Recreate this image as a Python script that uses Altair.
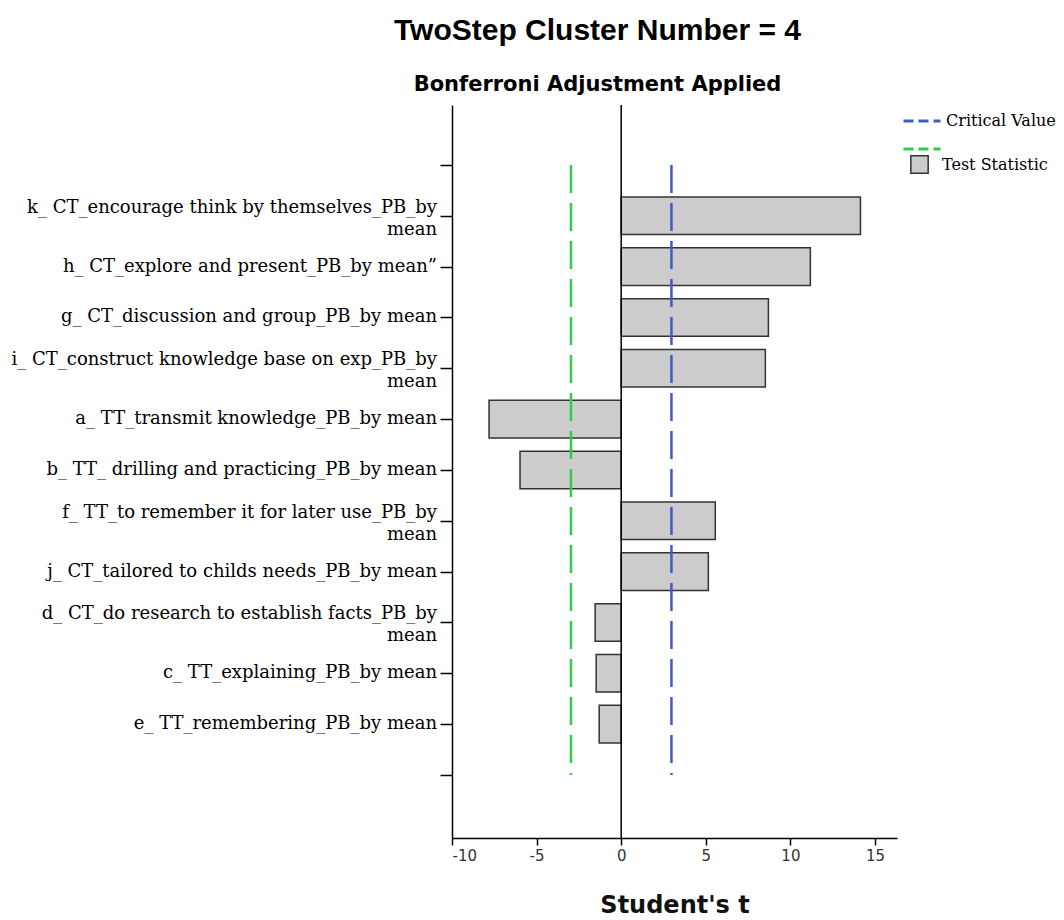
import altair as alt
import pandas as pd

# Predictors, top to bottom, and their Student's t statistics
variables = [
    "k_ CT_encourage think by themselves_PB_by\nmean",
    "h_ CT_explore and present_PB_by mean\u201d",
    "g_ CT_discussion and group_PB_by mean",
    "i_ CT_construct knowledge base on exp_PB_by\nmean",
    "a_ TT_transmit knowledge_PB_by mean",
    "b_ TT_ drilling and practicing_PB_by mean",
    "f_ TT_to remember it for later use_PB_by\nmean",
    "j_ CT_tailored to childs needs_PB_by mean",
    "d_ CT_do research to establish facts_PB_by\nmean",
    "c_ TT_explaining_PB_by mean",
    "e_ TT_remembering_PB_by mean",
]
t_values = [14.14, 11.18, 8.70, 8.52, -7.81, -5.98, 5.56, 5.15, -1.54, -1.48, -1.30]
critical_value = 2.97
x_ticks = [-10, -5, 0, 5, 10, 15]

SERIF = "DejaVu Serif"
SANS = "Liberation Sans"
WIDE_SANS = "DejaVu Sans"

bars = pd.DataFrame({
    "variable": variables,
    "t": t_values,
    "pos": list(range(1, len(variables) + 1)),
    "kind": "Test Statistic",
})
bars["lo"] = bars["pos"] - 0.37
bars["hi"] = bars["pos"] + 0.37

crit = pd.DataFrame({
    "x": [critical_value, -critical_value],
    "series": ["Critical Value", " "],
    "top": [0, 0],
    "bottom": [len(variables) + 1] * 2,
})

x_scale = alt.Scale(domain=[-10, 16.3], nice=False, zero=False)
y_scale = alt.Scale(domain=[-1.18, 13.24], reverse=True, nice=False, zero=False)

bar_layer = alt.Chart(bars).mark_rect(stroke="#333333", strokeWidth=1.5).encode(
    x=alt.X(
        "t:Q",
        scale=x_scale,
        title="Student's t",
        axis=alt.Axis(
            values=x_ticks, tickSize=7, tickColor="black", domainColor="black",
            tickWidth=1.5, domainWidth=1.5, labelFont=WIDE_SANS, labelFontSize=15,
            labelColor="#333333", labelPadding=3,
            labelExpr="replace(datum.label, '\u2212', '-')",
            titleFont=WIDE_SANS, titleFontSize=24, titleFontWeight="bold",
            titleColor="#111111", titlePadding=30, grid=False,
        ),
    ),
    x2=alt.datum(0),
    y=alt.Y(
        "lo:Q",
        scale=y_scale,
        title=None,
        axis=alt.Axis(
            values=list(range(0, len(variables) + 2)), labels=False, tickSize=12,
            tickColor="black", domainColor="black", tickWidth=1.5,
            domainWidth=1.5, grid=False,
        ),
    ),
    y2="hi:Q",
    fill=alt.Fill(
        "kind:N",
        scale=alt.Scale(domain=["Test Statistic"], range=["#cccccc"]),
        legend=alt.Legend(
            orient="none", legendX=458, legendY=50, title=None,
            symbolType="square", symbolSize=300, symbolStrokeColor="#333333",
            symbolStrokeWidth=1.5, labelFont=SERIF, labelFontSize=16,
            labelColor="black", labelOffset=13,
        ),
    ),
)

zero_line = alt.Chart(pd.DataFrame({"zero": [0]})).mark_rule(
    color="black", strokeWidth=1.5
).encode(x=alt.X("zero:Q", scale=x_scale))

crit_layer = alt.Chart(crit).mark_rule(strokeDash=[28, 10], strokeWidth=2.5).encode(
    x=alt.X("x:Q", scale=x_scale),
    y=alt.Y("top:Q", scale=y_scale),
    y2="bottom:Q",
    stroke=alt.Stroke(
        "series:N",
        scale=alt.Scale(domain=["Critical Value", " "], range=["#3f5cc2", "#33c94f"]),
        legend=alt.Legend(
            orient="none", legendX=450, legendY=-4, title=None,
            symbolType="stroke", symbolSize=1369, symbolDash=[10, 5],
            symbolStrokeWidth=3, labelFont=SERIF, labelFontSize=16,
            labelColor="black", labelOffset=4, rowPadding=-9,
        ),
    ),
)


def label_layer(multi_line, dy):
    test = "indexof(datum.variable, '\\n') >= 0"
    if not multi_line:
        test = "!(" + test + ")"
    return alt.Chart(bars).transform_filter(test).mark_text(
        align="right", baseline="middle", font=SERIF, fontSize=18, lineHeight=22,
        lineBreak="\n", color="black", dy=dy,
    ).encode(
        x=alt.value(-15),
        y=alt.Y("pos:Q", scale=y_scale),
        text="variable:N",
    )


chart = alt.layer(
    bar_layer, zero_line, crit_layer, label_layer(False, 0), label_layer(True, -8)
).resolve_scale(
    fill="independent", stroke="independent"
).properties(
    width=445,
    height=733,
    background="white",
    autosize=alt.AutoSizeParams(type="none"),
    padding={"left": 452, "top": 105, "right": 167, "bottom": 82},
    title=alt.TitleParams(
        text="TwoStep Cluster Number = 4",
        subtitle="Bonferroni Adjustment Applied",
        font=SANS, fontSize=30, fontWeight="bold", color="black",
        subtitleFont=WIDE_SANS, subtitleFontSize=21, subtitleFontWeight="bold",
        subtitleColor="black", subtitlePadding=28,
        anchor="middle", dx=-77, offset=6,
    ),
).configure_view(stroke=None)

chart.save("out.html", embed_options={"renderer": "svg", "actions": False})
